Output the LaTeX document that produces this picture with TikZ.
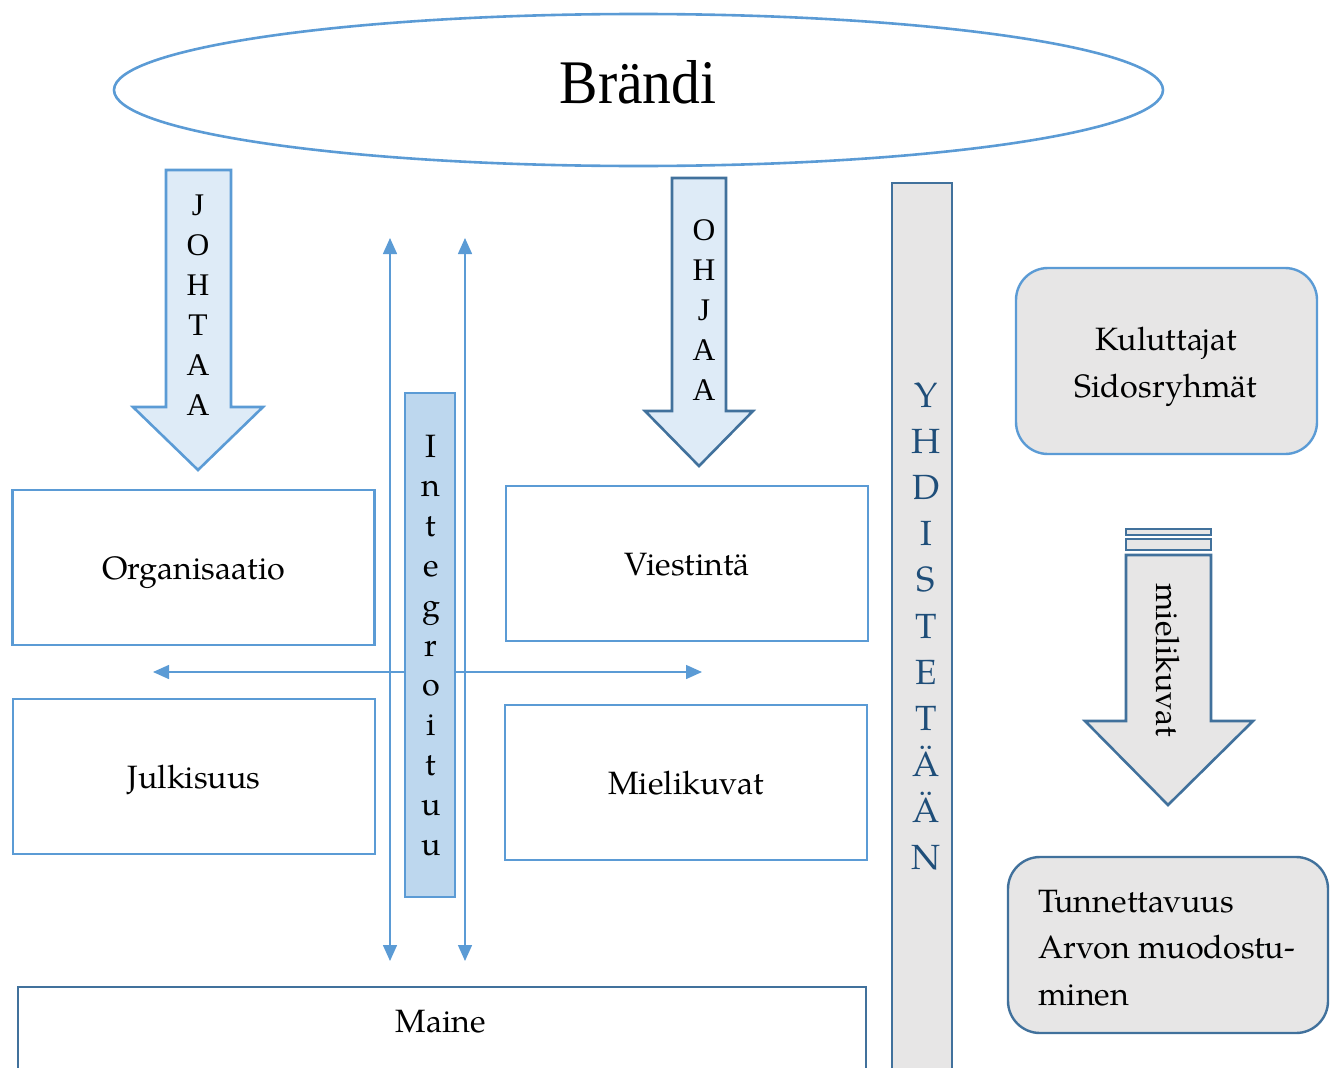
\documentclass[tikz,border=0pt]{standalone}
\usepackage{fontspec}
\usetikzlibrary{arrows.meta,shapes.geometric}
\newfontfamily\timesfont{Liberation Serif}
\newfontfamily\palfont{TeX Gyre Pagella}
\definecolor{lblue}{HTML}{5B9BD5}
\definecolor{dblue}{HTML}{41719C}
\definecolor{paleblue}{HTML}{DEEBF7}
\definecolor{midblue}{HTML}{BDD7EE}
\definecolor{softgray}{HTML}{E7E6E6}
\definecolor{navytext}{HTML}{1F4E79}
\tikzset{
  box/.style={draw=lblue, line width=2.4pt, inner sep=0pt,
    minimum width=362pt, minimum height=155pt,
    text height=24pt, text depth=0pt,
    font=\palfont\fontsize{32.3}{38}\selectfont},
  rbox/.style={draw=#1, fill=softgray, line width=2.4pt, rounded corners=32pt, inner sep=0pt},
  bodytext/.style={anchor=base, inner sep=0pt, font=\palfont\fontsize{32.3}{38}\selectfont},
  timesletter/.style={anchor=base, inner sep=0pt, font=\timesfont\fontsize{31.5}{32}\selectfont},
  blockarrow/.style={draw=#1, line width=2.6pt, line join=miter},
  thinarrow/.style={draw=lblue, line width=1.5pt,
    {Triangle[width=14pt,length=16pt]}-{Triangle[width=14pt,length=16pt]}}
}
\begin{document}
\begin{tikzpicture}[x=1pt,y=-1pt]
\useasboundingbox (0,0) rectangle (1336,1068);
\clip (0,0) rectangle (1336,1068);

% brand ellipse
\node[ellipse, draw=lblue, line width=2.6pt, minimum width=1049pt, minimum height=152pt, inner sep=0pt] (brand) at (638.5,90) {};
\node[anchor=base, inner sep=0pt, font=\timesfont\fontsize{62}{62}\selectfont, xscale=0.93] (brandtext) at (638,103) {Brändi};

% JOHTAA block arrow
\path[blockarrow=lblue, fill=paleblue] (166,170) -- (231,170) -- (231,407) -- (263,407) -- (198,470) -- (133,407) -- (166,407) -- cycle;
\foreach \l [count=\i] in {J,O,H,T,A,A}
  \node[timesletter] (johtaa-\i) at (198,175+40*\i) {\l};

% OHJAA block arrow
\path[blockarrow=dblue, fill=paleblue] (672,178) -- (726,178) -- (726,411) -- (753,411) -- (699,466) -- (645,411) -- (672,411) -- cycle;
\foreach \l [count=\i] in {O,H,J,A,A}
  \node[timesletter] (ohjaa-\i) at (704,200+40*\i) {\l};

% vertical and horizontal double arrows
\coordinate (leftup) at (390,238);
\coordinate (leftdown) at (390,961);
\coordinate (rightup) at (465,238);
\coordinate (rightdown) at (465,961);
\coordinate (westend) at (153,672);
\coordinate (eastend) at (702,672);
\draw[thinarrow] (leftup) -- (leftdown);
\draw[thinarrow] (rightup) -- (rightdown);
\draw[thinarrow] (westend) -- (eastend);

% integration bar
\path[draw=lblue, fill=midblue, line width=2.6pt] (405,393) rectangle (455,897);
\foreach \l [count=\i] in {I,n,t,e,g,r,o,i,t,u,u}
  \node[bodytext] (integ-\i) at (431,457+39.8*\i-39.8) {\l};

% four boxes
\node[box] (org) at (193.5,567.5) {Organisaatio};
\node[box] (pub) at (194,776.5) {Julkisuus};
\node[box] (com) at (687,563.5) {Viestintä};
\node[box] (img) at (686,782.5) {Mielikuvat};

% reputation box running off the bottom
\node[draw=dblue, line width=2.4pt, inner sep=0pt, minimum width=848pt, minimum height=140pt, anchor=north west] (rep) at (17,986) {};
\node[bodytext] (reptext) at (441,1032) {Maine};

% combining bar
\path[draw=dblue, fill=softgray, line width=2.6pt] (892,183) rectangle (952,1090);
\foreach \l [count=\i] in {Y,H,D,I,S,T,E,T,Ä,Ä,N}
  \node[anchor=base, inner sep=0pt, text=navytext, font=\palfont\fontsize{35}{40}\selectfont] (comb-\i) at (926,407+46.2*\i-46.2) {\l};

% stakeholders
\node[rbox=lblue, minimum width=301pt, minimum height=186pt] (stake) at (1166.5,361) {};
\node[bodytext] (stake-1) at (1166,350) {Kuluttajat};
\node[bodytext] (stake-2) at (1166,397) {Sidosryhmät};

% images arrow
\path[draw=dblue, fill=softgray, line width=2.2pt] (1126,529) rectangle (1211,535);
\path[draw=dblue, fill=softgray, line width=2.2pt] (1126,539) rectangle (1211,550);
\path[blockarrow=dblue, fill=softgray] (1126,555) -- (1211,555) -- (1211,721) -- (1253,721) -- (1168,805) -- (1085,721) -- (1126,721) -- cycle;
\node[rotate=-90, inner sep=0pt, font=\palfont\fontsize{32.3}{38}\selectfont] (imgtext) at (1168,660) {mielikuvat};

% outcomes
\node[rbox=dblue, minimum width=320pt, minimum height=176pt] (outcome) at (1168,945) {};
\node[bodytext, anchor=base west] (outcome-1) at (1038,912) {Tunnettavuus};
\node[bodytext, anchor=base west] (outcome-2) at (1038,958) {Arvon muodostu-};
\node[bodytext, anchor=base west] (outcome-3) at (1038,1005) {minen};
\end{tikzpicture}
\end{document}
